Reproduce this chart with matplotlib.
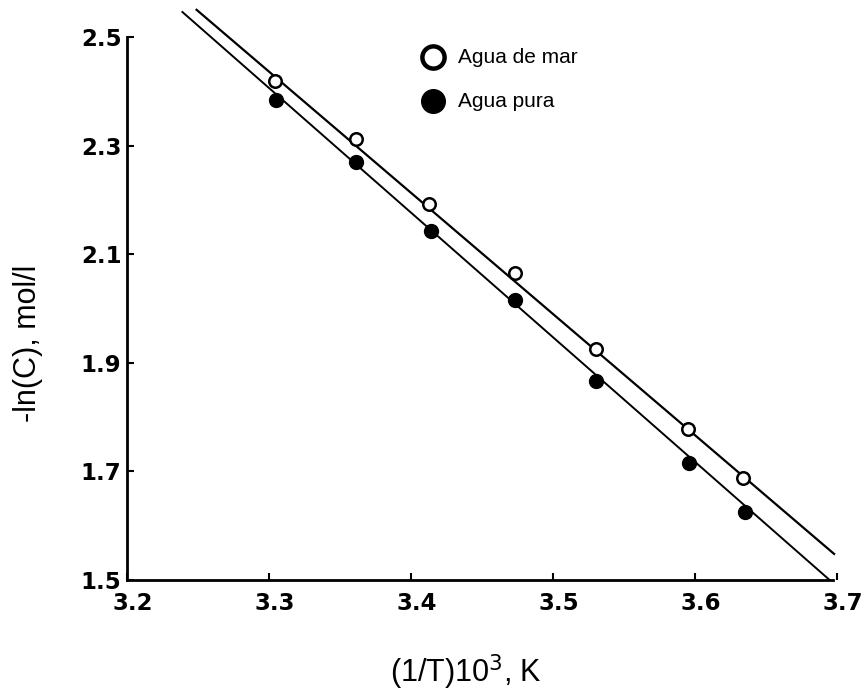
import matplotlib.pyplot as plt
import matplotlib.transforms as mtransforms

# data
x_mar = [3.304, 3.361, 3.413, 3.473, 3.530, 3.595, 3.634]
y_mar = [2.418, 2.312, 2.192, 2.065, 1.925, 1.778, 1.687]

x_pura = [3.305, 3.361, 3.414, 3.473, 3.530, 3.596, 3.635]
y_pura = [2.384, 2.270, 2.143, 2.016, 1.867, 1.715, 1.626]

# fitted straight lines (end points)
line_mar_x = [3.249, 3.698]
line_mar_y = [2.550, 1.548]
line_pura_x = [3.239, 3.697]
line_pura_y = [2.546, 1.495]

xticks = [3.2, 3.3, 3.4, 3.5, 3.6, 3.7]
yticks = [1.5, 1.7, 1.9, 2.1, 2.3, 2.5]

plt.rcParams["font.family"] = ["Liberation Sans", "DejaVu Sans"]

fig = plt.figure(figsize=(8.64, 6.96), dpi=100)
ax = fig.add_axes([0.147, 0.1667, 0.8299, 0.827])

ax.plot(line_mar_x, line_mar_y, "-", color="black", lw=1.6)
ax.plot(line_pura_x, line_pura_y, "-", color="black", lw=1.4)

ax.plot(x_mar, y_mar, "o", ms=9, mfc="white", mec="black", mew=1.8, zorder=3)
ax.plot(x_pura, y_pura, "o", ms=10, mfc="black", mec="black", zorder=3)

ax.set_xlim(3.2, 3.705)
ax.set_ylim(1.5, 2.56)
ax.spines["top"].set_visible(False)
ax.spines["right"].set_visible(False)
ax.spines["left"].set_bounds(1.5, 2.5)
ax.spines["bottom"].set_bounds(3.2, 3.697)
ax.spines["left"].set_linewidth(2)
ax.spines["bottom"].set_linewidth(2)

ax.set_xticks(xticks)
ax.set_xticklabels([f"{v:.1f}" for v in xticks], family="DejaVu Sans",
                   fontweight="bold", fontsize=16.5)
ax.set_yticks(yticks)
ax.set_yticklabels([f"{v:.1f}" for v in yticks], family="DejaVu Sans",
                   fontweight="bold", fontsize=16.5)
ax.tick_params(direction="in", length=5, width=1.5)
ax.tick_params(axis="x", pad=9)
ax.tick_params(axis="y", pad=4)

# scanned labels sit a little right of their ticks
shift = mtransforms.ScaledTranslation(6 / 100, 0, fig.dpi_scale_trans)
for lab in ax.get_xticklabels():
    lab.set_transform(lab.get_transform() + shift)

# legend drawn as marker + text
leg_x = 3.4155
leg_text_x = 3.433
ax.plot([leg_x], [2.463], "o", ms=16, mfc="white", mec="black", mew=3.2, clip_on=False)
ax.text(leg_text_x, 2.463, "Agua de mar", fontsize=15, va="center")
ax.plot([leg_x], [2.382], "o", ms=17, mfc="black", mec="black", clip_on=False)
ax.text(leg_text_x, 2.382, "Agua pura", fontsize=15, va="center")

fig.text(0.032, 1 - 343 / 696, "-ln(C), mol/l", rotation=90, fontsize=22,
         va="center", ha="center")
fig.text(466 / 864, 1 - 672 / 696, "(1/T)10$^3$, K", fontsize=22,
         va="center", ha="center")

plt.savefig("out.png")
